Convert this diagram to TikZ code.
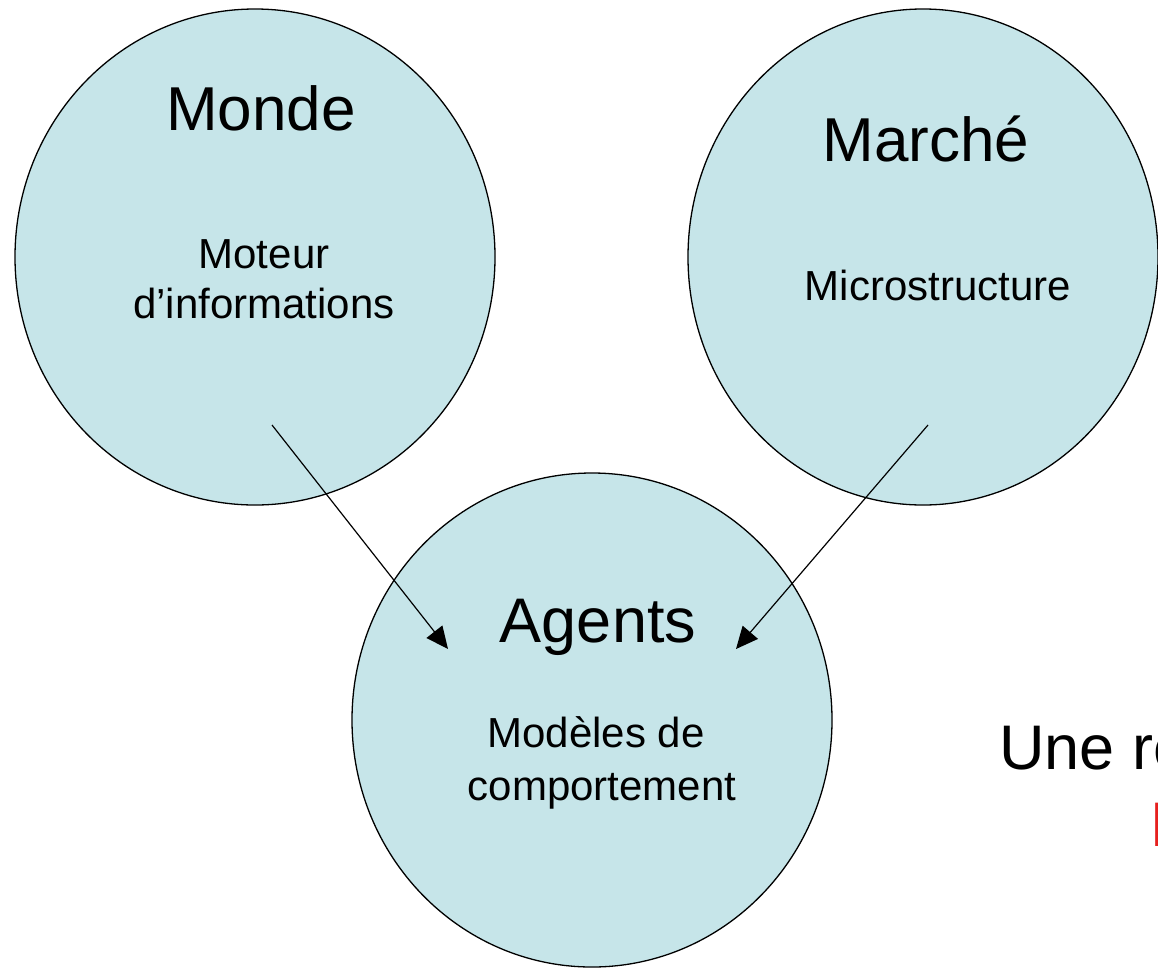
\documentclass[tikz,border=0pt]{standalone}
\usepackage{fontspec}
\setmainfont{Liberation Sans}
\usetikzlibrary{arrows.meta,positioning,shapes.geometric}

\definecolor{bulle}{RGB}{198,229,233}
\definecolor{rouge}{RGB}{230,32,30}

\begin{document}
\begin{tikzpicture}[
    x=1pt, y=-1pt,
    bulle/.style={ellipse, draw, fill=bulle, line width=1.3pt, inner sep=0pt,
                  minimum width=480pt, minimum height=496pt},
    titre/.style={anchor=base, inner sep=0pt, font=\fontsize{62}{74}\selectfont},
    soustitre/.style={anchor=base, inner sep=0pt, font=\fontsize{42}{50}\selectfont},
    legende/.style={anchor=base west, inner sep=0pt, font=\fontsize{63}{75}\selectfont},
    arrow/.style={-{Triangle[length=22pt, width=20pt]}, line width=1.2pt}
]
\useasboundingbox (0,0) rectangle (1158,967);
\clip (0,0) rectangle (1158,967);

% the three bubbles
\node[bulle] (monde) at (255,257) {};
\node[bulle, minimum width=470pt] (marche) at (923,257) {};
\node[bulle, minimum height=494pt] (agents) at (592,720) {};

% their texts
\node[titre] (mondeT) at (261,130) {Monde};
\node[soustitre] (mondeA) at (264,268) {Moteur};
\node[soustitre] (mondeB) at (264,318) {d’informations};
\node[titre] (marcheT) at (926,161) {Marché};
\node[soustitre] (marcheA) at (938,300) {Microstructure};
\node[titre, font=\fontsize{63}{75}\selectfont] (agentsT) at (598,642) {Agents};
\node[soustitre] (agentsA) at (596,747) {Modèles de};
\node[soustitre] (agentsB) at (602,800) {comportement};

% text running off the right edge
\node[legende] (une) at (999,769) {Une représentation};
\node[legende, text=rouge] (plate) at (1150,846) {Plateforme};

% flows into the agents
\coordinate (mondeOut) at (272,425);
\coordinate (marcheOut) at (928,425);
\coordinate (agentsInL) at (448,649);
\coordinate (agentsInR) at (736,649);
\draw[arrow] (mondeOut) -- (agentsInL);
\draw[arrow] (marcheOut) -- (agentsInR);
\end{tikzpicture}
\end{document}
